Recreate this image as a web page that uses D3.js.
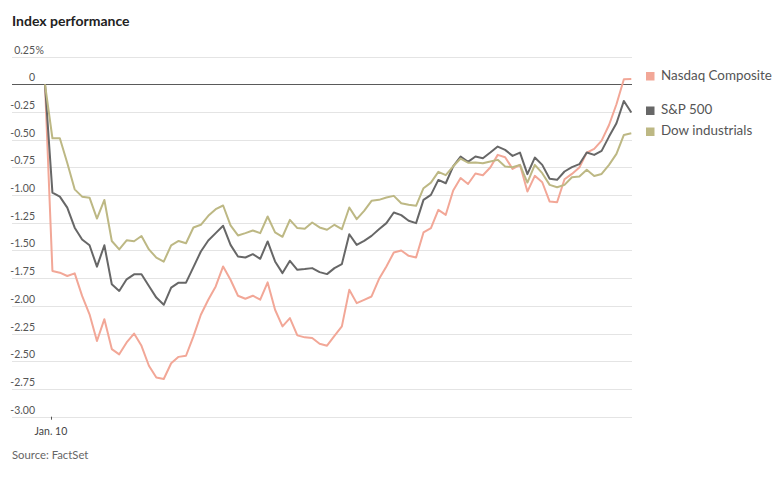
<!DOCTYPE html>
<html>
<head>
<meta charset="utf-8">
<script src="https://cdn.jsdelivr.net/npm/d3@7"></script>
<style>
  body { margin: 0; background: #fff; }
  svg { display: block; font-family: Lato, "Noto Sans", sans-serif; }
</style>
</head>
<body>
<svg id="chart" width="784" height="484"></svg>
<script>
const title = "Index performance";
const source = "Source: FactSet";
const seriesNames = ["Nasdaq Composite", "S&P 500", "Dow industrials"];
const seriesColors = ["#f2a797", "#676767", "#bdb884"];
const yTicks = [0.25, 0, -0.25, -0.5, -0.75, -1, -1.25, -1.5, -1.75, -2, -2.25, -2.5, -2.75, -3];
const xTickValues = [0.8];
const xTickLabels = ["Jan. 10"];

const nasdaq = [0, -1.685, -1.70, -1.73, -1.706, -1.91, -2.076, -2.317, -2.12, -2.39,
  -2.437, -2.33, -2.25, -2.36, -2.54, -2.647, -2.66, -2.518, -2.46, -2.45,
  -2.275, -2.08, -1.944, -1.824, -1.644, -1.764, -1.908, -1.935, -1.908, -1.944,
  -1.788, -2.035, -2.185, -2.11, -2.266, -2.284, -2.29, -2.341, -2.359, -2.27,
  -2.185, -1.855, -1.975, -1.945, -1.915, -1.758, -1.644, -1.518, -1.50, -1.548,
  -1.563, -1.337, -1.298, -1.133, -1.178, -0.958, -0.846, -0.90, -0.805, -0.821,
  -0.751, -0.637, -0.658, -0.763, -0.727, -0.968, -0.826, -0.884, -1.058, -1.064,
  -0.857, -0.809, -0.751, -0.616, -0.583, -0.508, -0.367, -0.18, 0.045, 0.048];
const sp500 = [0, -0.978, -1.014, -1.113, -1.294, -1.40, -1.453, -1.646, -1.453, -1.805,
  -1.865, -1.76, -1.715, -1.715, -1.82, -1.925, -1.99, -1.835, -1.79, -1.79,
  -1.65, -1.509, -1.41, -1.343, -1.277, -1.449, -1.554, -1.563, -1.533, -1.575,
  -1.418, -1.599, -1.704, -1.593, -1.674, -1.668, -1.659, -1.695, -1.713, -1.659,
  -1.623, -1.353, -1.449, -1.413, -1.368, -1.308, -1.253, -1.157, -1.181, -1.232,
  -1.253, -1.043, -0.998, -0.863, -0.893, -0.74, -0.652, -0.70, -0.652, -0.667,
  -0.616, -0.562, -0.592, -0.646, -0.616, -0.811, -0.661, -0.727, -0.853, -0.862,
  -0.787, -0.748, -0.721, -0.616, -0.637, -0.601, -0.472, -0.352, -0.15, -0.255];
const dow = [0, -0.487, -0.487, -0.71, -0.948, -1.014, -1.023, -1.212, -1.044, -1.414,
  -1.49, -1.408, -1.417, -1.369, -1.49, -1.564, -1.60, -1.453, -1.414, -1.435,
  -1.292, -1.268, -1.187, -1.127, -1.094, -1.274, -1.364, -1.343, -1.319, -1.343,
  -1.193, -1.337, -1.376, -1.223, -1.298, -1.304, -1.247, -1.292, -1.313, -1.268,
  -1.308, -1.112, -1.217, -1.142, -1.052, -1.043, -1.022, -1.007, -1.073, -1.088,
  -1.097, -0.938, -0.887, -0.79, -0.82, -0.74, -0.67, -0.708, -0.706, -0.712,
  -0.697, -0.682, -0.742, -0.748, -0.727, -0.887, -0.727, -0.802, -0.908, -0.929,
  -0.908, -0.839, -0.833, -0.772, -0.827, -0.809, -0.727, -0.628, -0.457, -0.442];

const allSeries = [nasdaq, sp500, dow];

const svg = d3.select("#chart");
const gridLeft = 12, gridRight = 632;

const x = d3.scaleLinear().domain([0, nasdaq.length - 1]).range([45, 631.3]);
const y = d3.scaleLinear().domain([-3, 0.25]).range([416.7, 56.6]);

// Title
svg.append("text").attr("x", 12).attr("y", 26)
  .attr("font-size", 14).attr("font-weight", 700).attr("fill", "#222")
  .text(title);

// Gridlines
const grid = svg.append("g");
grid.selectAll("line").data(yTicks).join("line")
  .attr("x1", gridLeft).attr("x2", gridRight)
  .attr("y1", d => Math.round(y(d)) + 0.5).attr("y2", d => Math.round(y(d)) + 0.5)
  .attr("stroke", d => d === 0 ? "#5a5a5a" : "#e4e4e4")
  .attr("stroke-width", d => d === 0 ? 1.2 : 1);

grid.selectAll("text.num").data(yTicks).join("text")
  .attr("class", "num")
  .attr("x", 35).attr("y", d => Math.round(y(d)) - 3)
  .attr("text-anchor", "end").attr("font-size", 10.5).attr("fill", "#555")
  .text(d => d === 0 ? "0" : d3.format(".2f")(d).replace("−", "-"));

grid.selectAll("text.pct").data(yTicks.slice(0, 1)).join("text")
  .attr("class", "pct")
  .attr("x", 35.5).attr("y", d => Math.round(y(d)) - 3)
  .attr("font-size", 10.5).attr("fill", "#555")
  .text("%");

// X axis tick
const xg = svg.append("g");
xg.selectAll("line").data(xTickValues).join("line")
  .attr("x1", d => Math.round(x(d)) + 0.5).attr("x2", d => Math.round(x(d)) + 0.5)
  .attr("y1", y(-3)).attr("y2", y(-3) + 3)
  .attr("stroke", "#555").attr("stroke-width", 1);
xg.selectAll("text").data(xTickValues).join("text")
  .attr("x", d => x(d)).attr("y", 435)
  .attr("text-anchor", "middle").attr("font-size", 10.5).attr("fill", "#444")
  .text((d, i) => xTickLabels[i]);

// Lines
const line = d3.line().x((d, i) => x(i)).y(d => y(d));
svg.append("g").selectAll("path").data(allSeries).join("path")
  .attr("d", d => line(d))
  .attr("fill", "none")
  .attr("stroke", (d, i) => seriesColors[i])
  .attr("stroke-width", 2)
  .attr("stroke-linejoin", "round");

// Legend
const legendY = [72, 106.5, 127.5];
const lg = svg.append("g");
seriesNames.forEach((name, i) => {
  lg.append("rect").attr("x", 646).attr("y", legendY[i])
    .attr("width", 8.5).attr("height", 8.5).attr("fill", seriesColors[i]);
  lg.append("text").attr("x", 661).attr("y", legendY[i] + 7.8)
    .attr("font-size", 13.4).attr("fill", "#555").text(name);
});

// Source
svg.append("text").attr("x", 12).attr("y", 459)
  .attr("font-size", 11.3).attr("fill", "#666").text(source);
</script>
</body>
</html>
